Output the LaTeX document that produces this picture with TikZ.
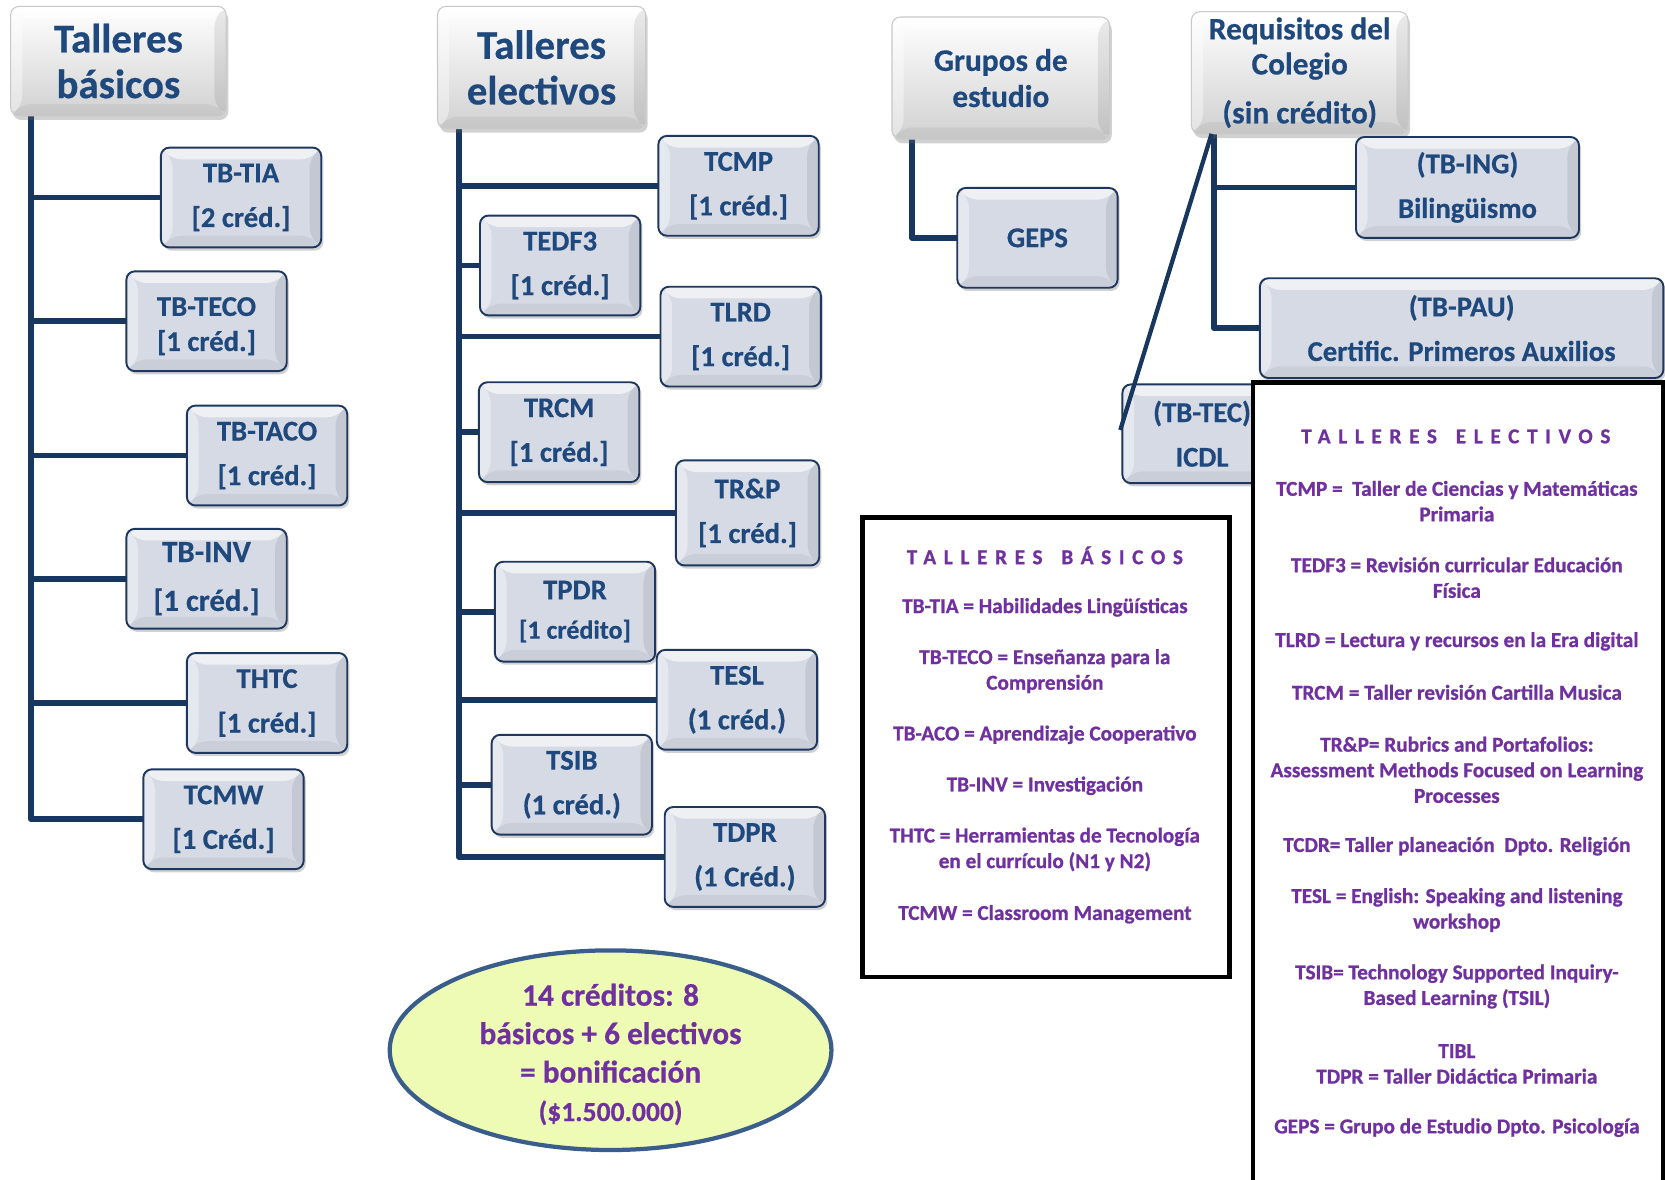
\documentclass[tikz,border=0pt]{standalone}
\usepackage{fontspec}
\setmainfont{Carlito}
\usetikzlibrary{shadows,backgrounds,shapes.geometric}
\definecolor{txtblue}{RGB}{31,73,125}
\definecolor{lineblue}{RGB}{23,55,94}
\definecolor{boxfill}{RGB}{213,218,228}
\definecolor{boxdraw}{RGB}{30,55,95}
\definecolor{hdrdraw}{RGB}{200,200,200}
\definecolor{purp}{RGB}{112,48,160}
\definecolor{ellfill}{RGB}{238,251,181}
\definecolor{elldraw}{RGB}{58,94,140}
\newcommand\heavy{\addfontfeatures{FakeBold=0.5}}
\tikzset{bevel/.style={path picture={
  \path (path picture bounding box.north west) coordinate (qa)
        (path picture bounding box.north east) coordinate (qb)
        (path picture bounding box.south east) coordinate (qc)
        (path picture bounding box.south west) coordinate (qd)
        ([shift={(11pt,-11pt)}]path picture bounding box.north west) coordinate (ia)
        ([shift={(-11pt,-11pt)}]path picture bounding box.north east) coordinate (ib)
        ([shift={(-11pt,11pt)}]path picture bounding box.south east) coordinate (ic)
        ([shift={(11pt,11pt)}]path picture bounding box.south west) coordinate (id);
  \fill[white,opacity=.6] (qa) -- (qb) -- (ib) -- (ia) -- cycle;
  \fill[white,opacity=.4] (qa) -- (ia) -- (id) -- (qd) -- cycle;
  \fill[black,opacity=.08] (qb) -- (ib) -- (ic) -- (qc) -- cycle;
  \fill[black,opacity=.05] (qd) -- (id) -- (ic) -- (qc) -- cycle;
}}}
\begin{document}
\begin{tikzpicture}[x=1pt,y=-1pt,
  box/.style={rectangle, rounded corners=8pt, draw=boxdraw, line width=1.8pt, fill=boxfill, bevel,
    text=txtblue, font=\bfseries\fontsize{27}{42}\selectfont\heavy, align=center,
    inner sep=0pt, outer sep=0pt, minimum width=151pt, minimum height=94pt,
    drop shadow={shadow xshift=2pt, shadow yshift=-3pt, opacity=.3, fill=black!60}},
  hdr/.style={rectangle, rounded corners=8pt, draw=hdrdraw, line width=1pt, bevel,
    top color=white, bottom color=black!18, text=txtblue, align=center,
    inner sep=0pt, outer sep=0pt,
    drop shadow={shadow xshift=2pt, shadow yshift=-4pt, opacity=.3, fill=black!60}},
  bigh/.style={font=\bfseries\fontsize{38.5}{43}\selectfont\heavy},
  midh/.style={font=\bfseries\fontsize{29.5}{34}\selectfont\heavy},
  conn/.style={draw=lineblue, line width=5.4pt, line join=round},
  legbox/.style={rectangle, draw=black, line width=4.5pt, fill=white, inner sep=0pt, outer sep=0pt,
    drop shadow={shadow xshift=2pt, shadow yshift=-2pt, opacity=.35, fill=black!50}},
  legtxt/.style={text=purp, font=\bfseries\fontsize{20}{24.1}\selectfont\addfontfeatures{FakeBold=0.8}, align=center, inner sep=0pt},
  legtitle/.style={text=purp, font=\bfseries\fontsize{20}{24}\selectfont\addfontfeatures{LetterSpace=36,FakeBold=0.8}, inner sep=0pt},
  ell/.style={ellipse, draw=elldraw, line width=4pt, fill=ellfill, inner sep=0pt,
    minimum width=416pt, minimum height=188pt},
  elltxt/.style={text=purp, font=\bfseries\fontsize{29.5}{36.2}\selectfont\heavy, align=center, inner sep=0pt}
]
\path[use as bounding box, clip] (0,0) rectangle (1568,1111);

% ---------- headers
\node[hdr, bigh, minimum width=203pt, minimum height=103pt] (hb) at (111.5,57.5) {Talleres\\básicos};
\node[hdr, bigh, minimum width=196pt, minimum height=115pt] (he) at (510,63.5) {Talleres\\electivos};
\node[hdr, midh, minimum width=205pt, minimum height=115pt] (hg) at (942.5,73.5) {Grupos de\\estudio};
\node[hdr, font=\bfseries\fontsize{29.5}{33}\selectfont\heavy, minimum width=204pt, minimum height=115pt] (hr) at (1224,68.5) {Requisitos del\\Colegio\\[13pt](sin crédito)};

% ---------- basic workshops
\node[box] (tia)  at (227,186)   {TB-TIA\\{[}2 créd.]};
\node[box, font=\bfseries\fontsize{27}{33}\selectfont\heavy] (teco) at (194.5,302.5) {\rule{0pt}{27pt}TB-TECO\\{[}1 créd.]};
\node[box] (taco) at (251.5,429) {TB-TACO\\{[}1 créd.]};
\node[box, font=\bfseries\fontsize{29}{46}\selectfont\heavy] (inv)  at (194.5,545) {TB-INV\\{[}1 créd.]};
\node[box] (thtc) at (251.5,662) {THTC\\{[}1 créd.]};
\node[box] (tcmw) at (210.5,771.5) {TCMW\\{[}1 Créd.]};

% ---------- elective workshops
\node[box] (tcmp) at (695.5,175) {TCMP\\{[}1 créd.]};
\node[box] (tedf) at (527.5,250) {TEDF3\\{[}1 créd.]};
\node[box] (tlrd) at (697.5,317) {TLRD\\{[}1 créd.]};
\node[box] (trcm) at (526.5,407) {TRCM\\{[}1 créd.]};
\node[box, minimum width=135pt, minimum height=99pt] (trp) at (704,483) {TR\&P\\{[}1 créd.]};
\node[box, font=\bfseries\fontsize{27}{37}\selectfont\heavy] (tpdr) at (541.5,576) {TPDR\\{\fontsize{24.5}{37}\selectfont\heavy[1 crédito]}};
\node[box] (tesl) at (694,659) {TESL\\(1 créd.)};
\node[box] (tsib) at (538.5,739) {TSIB\\(1 créd.)};
\node[box] (tdpr) at (701.5,807) {TDPR\\(1 Créd.)};

% ---------- study groups
\node[box] (geps) at (977,224) {GEPS};

% ---------- school requirements
\node[box, minimum width=210pt, minimum height=95pt] (ing) at (1382,176.5) {(TB-ING)\\Bilingüismo};
\node[box, minimum width=380pt, minimum height=94pt] (pau) at (1376.5,309) {(TB-PAU)\\Certific. Primeros Auxilios};
\node[box, minimum width=150pt, minimum height=93pt] (tec) at (1132,408.5) {(TB-TEC)\\ICDL};
\coordinate (tecEnd) at (1055,405);
\draw[conn, line width=4pt] ([xshift=19pt]hr.south west) -- (tecEnd);

% ---------- connectors
\begin{pgfonlayer}{background}
  \coordinate (hbT) at ([xshift=19pt]hb.south west);
  \draw[conn] (hbT) |- (tcmw.west);
  \foreach \n in {tia,teco,taco,inv,thtc} {\draw[conn] (\n.west -| hbT) -- (\n.west);}
  \coordinate (heT) at ([xshift=20pt]he.south west);
  \draw[conn] (heT) |- (tdpr.west);
  \foreach \n in {tcmp,tedf,tlrd,trcm,trp,tpdr,tesl,tsib} {\draw[conn] (\n.west -| heT) -- (\n.west);}
  \coordinate (hgT) at ([xshift=19pt]hg.south west);
  \draw[conn] (hgT) |- (geps.west);
  \coordinate (hrT) at ([xshift=21pt]hr.south west);
  \draw[conn] (hrT) |- (pau.west);
  \draw[conn] (ing.west -| hrT) -- (ing.west);
\end{pgfonlayer}

% ---------- ellipse
\node[ell] (el) at (575,989) {};
\node[elltxt] (elt) at (575,993) {14 créditos: 8\\básicos + 6 electivos\\= bonificación\\{\fontsize{26}{33}\selectfont\heavy(\$1.500.000)}};

% ---------- legend boxes
\node[legbox, minimum width=346pt, minimum height=433pt] (lg1) at (985,703.5) {};
\node[legbox, minimum width=386pt, minimum height=790pt] (lg2) at (1373,755) {};

\node[legtitle] (l1t) at (984,523) {TALLERES\hspace{6pt} BÁSICOS};
\node[legtxt] (l1a) at (984,572) {TB-TIA = Habilidades Lingüísticas};
\node[legtxt] (l1b) at (984,632) {TB-TECO = Enseñanza para la\\Comprensión};
\node[legtxt] (l1c) at (984,692) {TB-ACO = Aprendizaje Cooperativo};
\node[legtxt] (l1d) at (984,740) {TB-INV = Investigación};
\node[legtxt] (l1e) at (984,800) {THTC = Herramientas de Tecnología\\en el currículo (N1 y N2)};
\node[legtxt] (l1f) at (984,861) {TCMW = Classroom Management};

\node[legtitle] (l2t) at (1371,411) {TALLERES\hspace{6pt} ELECTIVOS};
\node[legtxt] (l2a) at (1372,472) {TCMP =\ \ Taller de Ciencias y Matemáticas\\Primaria};
\node[legtxt] (l2b) at (1372,544) {TEDF3 = Revisión curricular Educación\\Física};
\node[legtxt] (l2c) at (1372,604) {TLRD = Lectura y recursos en la Era digital};
\node[legtxt] (l2d) at (1372,652) {TRCM = Taller revisión Cartilla Musica};
\node[legtxt] (l2e) at (1372,725) {TR\&P= Rubrics and Portafolios:\\Assessment Methods Focused on Learning\\Processes};
\node[legtxt] (l2f) at (1372,797) {TCDR= Taller planeación\ \ Dpto. Religión};
\node[legtxt] (l2g) at (1372,857) {TESL = English: Speaking and listening\\workshop};
\node[legtxt] (l2h) at (1372,929) {TSIB= Technology Supported Inquiry-\\Based Learning (TSIL)};
\node[legtxt] (l2i) at (1372,1002) {TIBL\\TDPR = Taller Didáctica Primaria};
\node[legtxt] (l2j) at (1372,1062) {GEPS = Grupo de Estudio Dpto. Psicología};
\end{tikzpicture}
\end{document}
